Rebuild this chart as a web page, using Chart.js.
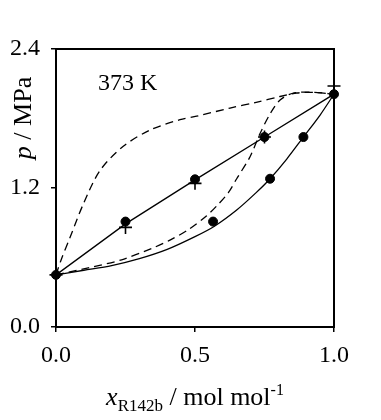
<!DOCTYPE html>
<html>
<head>
<meta charset="utf-8">
<script src="https://cdn.jsdelivr.net/npm/chart.js@4.4.1/dist/chart.umd.min.js"></script>
<style>
html, body { margin: 0; padding: 0; background: #fff; }
</style>
</head>
<body>
<canvas id="vleChart" width="381" height="420"></canvas>
<script>

// axis ticks
const xTicks = [0.0, 0.5, 1.0];
const yTicks = [0.0, 1.2, 2.4];

// measured points (filled circles)
const xDotsA = [0.0, 0.25, 0.5, 0.75, 1.0];
const pDotsA = [0.45, 0.91, 1.275, 1.64, 2.01];
const xDotsB = [0.565, 0.77, 0.89];
const pDotsB = [0.91, 1.28, 1.64];

// measured points (crosses)
const xCross = [0.0, 0.25, 0.5, 0.75, 1.0];
const pCross = [0.45, 0.86, 1.24, 1.64, 2.08];

// solid model curves
const xSolidUp = [0.0, 0.25, 0.5, 0.75, 1.0];
const pSolidUp = [0.45, 0.89, 1.27, 1.64, 2.01];
const xSolidLow = [0.0, 0.1, 0.2, 0.3, 0.4, 0.5, 0.57, 0.65, 0.72, 0.77, 0.83, 0.89, 0.95, 1.0];
const pSolidLow = [0.45, 0.49, 0.53, 0.59, 0.67, 0.78, 0.87, 1.01, 1.16, 1.28, 1.45, 1.64, 1.83, 2.01];

// dashed model curves
const xDashUp = [0.0, 0.02, 0.05, 0.098, 0.158, 0.242, 0.338, 0.446, 0.506, 0.626, 0.72, 0.806, 0.866, 0.93, 1.0];
const pDashUp = [0.45, 0.59, 0.77, 1.06, 1.35, 1.56, 1.70, 1.79, 1.82, 1.89, 1.94, 1.99, 2.02, 2.025, 2.01];
const xDashLow = [0.0, 0.116, 0.236, 0.356, 0.41, 0.476, 0.542, 0.584, 0.62, 0.65, 0.698, 0.734, 0.77, 0.806, 0.854, 0.93, 1.0];
const pDashLow = [0.45, 0.51, 0.58, 0.69, 0.75, 0.84, 0.96, 1.06, 1.16, 1.28, 1.47, 1.67, 1.84, 1.96, 2.02, 2.025, 2.01];

const tempLabel = "373 K";

const serif = "'Liberation Serif', 'Times New Roman', serif";

function pts(xs, ys) {
    return xs.map((x, i) => ({ x: x, y: ys[i] }));
}

function curve(xs, ys, dash, tension) {
    return {
        data: pts(xs, ys),
        showLine: true,
        borderColor: "#000",
        borderWidth: 1.3,
        borderDash: dash,
        pointRadius: 0,
        tension: tension
    };
}

function markers(xs, ys, style, r) {
    return {
        data: pts(xs, ys),
        showLine: false,
        pointStyle: style,
        pointRadius: r,
        pointBorderWidth: style === "cross" ? 1.6 : 1,
        pointBackgroundColor: "#000",
        pointBorderColor: "#000",
        clip: false
    };
}

const framePlugin = {
    id: "frame",
    afterDraw(chart) {
        const ctx = chart.ctx;
        const a = chart.chartArea;
        const xs = chart.scales.x;
        const ys = chart.scales.y;
        ctx.save();
        ctx.strokeStyle = "#000";
        ctx.lineWidth = 2;
        ctx.strokeRect(a.left, a.top, a.right - a.left, a.bottom - a.top);

        ctx.fillStyle = "#000";
        ctx.textBaseline = "alphabetic";

        // temperature label
        ctx.font = "24px " + serif;
        ctx.textAlign = "left";
        ctx.fillText(tempLabel, xs.getPixelForValue(0.151), ys.getPixelForValue(2.05));

        // y title: p / MPa (rotated)
        ctx.save();
        ctx.translate(31, 118);
        ctx.rotate(-Math.PI / 2);
        ctx.font = "italic 26px " + serif;
        const w1 = ctx.measureText("p").width;
        ctx.font = "26px " + serif;
        const w2 = ctx.measureText(" / MPa").width;
        let sx = -(w1 + w2) / 2;
        ctx.font = "italic 26px " + serif;
        ctx.fillText("p", sx, 0);
        ctx.font = "26px " + serif;
        ctx.fillText(" / MPa", sx + w1, 0);
        ctx.restore();

        // x title: x_R142b / mol mol^-1
        const parts = [
            { t: "x", f: "italic 26px " + serif, dy: 0 },
            { t: "R142b", f: "17px " + serif, dy: 6 },
            { t: " / mol mol", f: "26px " + serif, dy: 0 },
            { t: "-1", f: "16px " + serif, dy: -10 }
        ];
        let total = 0;
        parts.forEach(p => { ctx.font = p.f; p.w = ctx.measureText(p.t).width; total += p.w; });
        let cx = (a.left + a.right) / 2 - total / 2;
        parts.forEach(p => {
            ctx.font = p.f;
            ctx.fillText(p.t, cx, 405 + p.dy);
            cx += p.w;
        });
        ctx.restore();
    }
};

new Chart(

    document.getElementById("vleChart"),

    {

        type: "scatter",

        data: {

            datasets: [

                markers(xDotsA, pDotsA, "circle", 4.5),
                markers(xDotsB, pDotsB, "circle", 4.5),
                markers(xCross, pCross, "cross", 6.5),
                curve(xSolidUp, pSolidUp, [], 0),
                curve(xSolidLow, pSolidLow, [], 0.3),
                curve(xDashUp, pDashUp, [8, 5], 0.3),
                curve(xDashLow, pDashLow, [8, 5], 0.3)

            ]

        },

        options: {

            responsive: false,
            animation: false,
            devicePixelRatio: 1,

            layout: {
                padding: { top: 49, right: 47, left: 0, bottom: 0 }
            },

            plugins: {
                legend: { display: false },
                tooltip: { enabled: false }
            },

            scales: {

                x: {
                    type: "linear",
                    min: 0,
                    max: 1,
                    afterBuildTicks: s => { s.ticks = xTicks.map(v => ({ value: v })); },
                    afterFit: s => { s.height = 93; },
                    ticks: {
                        callback: v => v.toFixed(1),
                        color: "#000",
                        font: { family: serif, size: 24 },
                        padding: 9,
                        maxRotation: 0
                    },
                    grid: {
                        drawOnChartArea: false,
                        drawTicks: true,
                        tickLength: 5,
                        color: "#000",
                        lineWidth: 1.5
                    },
                    border: { color: "#000", width: 2 }
                },

                y: {
                    type: "linear",
                    min: 0,
                    max: 2.4,
                    afterBuildTicks: s => { s.ticks = yTicks.map(v => ({ value: v })); },
                    afterFit: s => { s.width = 56; },
                    ticks: {
                        callback: v => v.toFixed(1),
                        color: "#000",
                        font: { family: serif, size: 24 },
                        padding: 11
                    },
                    grid: {
                        drawOnChartArea: false,
                        drawTicks: true,
                        tickLength: 5,
                        color: "#000",
                        lineWidth: 1.5
                    },
                    border: { color: "#000", width: 2 }
                }

            }

        },

        plugins: [framePlugin]

    }

);

</script>
</body>
</html>
